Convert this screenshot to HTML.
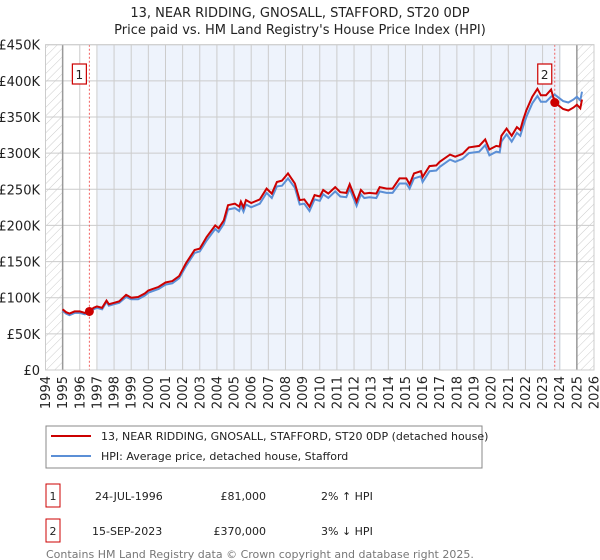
<!DOCTYPE html>
<html><head><meta charset="utf-8"><style>
body{margin:0;width:600px;height:560px;overflow:hidden;background:#fff;font-family:"Liberation Sans","DejaVu Sans",sans-serif;}
svg{position:absolute;left:0;top:0}
text{font-family:"DejaVu Sans","Liberation Sans",sans-serif}
</style></head><body>
<svg id="chart" width="600" height="560"></svg>
<script>
const years=[1995.0,1995.2,1995.4,1995.7,1996.0,1996.3,1996.56,1996.8,1997.0,1997.3,1997.56,1997.7,1998.0,1998.3,1998.7,1999.0,1999.4,1999.8,2000.0,2000.6,2001.0,2001.4,2001.8,2002.2,2002.7,2003.0,2003.4,2003.9,2004.1,2004.4,2004.65,2005.05,2005.3,2005.4,2005.55,2005.7,2006.0,2006.5,2006.9,2007.2,2007.5,2007.8,2008.15,2008.55,2008.83,2009.1,2009.4,2009.7,2010.0,2010.2,2010.5,2010.9,2011.2,2011.55,2011.75,2012.15,2012.4,2012.6,2012.9,2013.3,2013.5,2013.9,2014.25,2014.65,2015.05,2015.24,2015.5,2015.9,2016.0,2016.4,2016.8,2017.0,2017.6,2017.9,2018.33,2018.7,2019.3,2019.65,2019.9,2020.3,2020.5,2020.6,2020.9,2021.2,2021.5,2021.7,2021.85,2022.05,2022.4,2022.7,2022.9,2023.2,2023.5,2023.71,2024.2,2024.5,2024.8,2025.0,2025.2,2025.3];
const priceK=[84,80,78,81,81,79,81,86,88,86,96,91,93,95,104,100,101,106,110,115,121,123,130,148,166,168,184,200,196,207,228,230,226,233,225,235,231,236,251,244,260,262,272,258,235,236,226,242,240,249,244,253,246,245,257,233,249,244,245,244,253,251,251,265,265,257,272,275,267,282,283,288,298,295,299,308,310,319,305,310,309,324,334,324,336,332,345,359,378,389,380,380,388,370,361,359,363,367,362,374];
const hpiK=[82,78,76,79,79,77,79,84,86,84,94,89,91,93,101,98,98,103,107,112,118,120,127,144,162,164,179,195,191,202,222,224,220,227,219,229,225,230,245,238,254,255,265,252,229,230,220,236,234,243,238,247,240,239,251,227,243,238,239,238,247,245,245,258,258,251,265,268,260,275,276,281,291,288,292,300,302,311,297,302,301,316,326,316,328,324,336,350,369,379,371,371,378,381,372,370,374,378,373,385];
const yTicks=[0,50,100,150,200,250,300,350,400,450];
const xTicks=[1994,1995,1996,1997,1998,1999,2000,2001,2002,2003,2004,2005,2006,2007,2008,2009,2010,2011,2012,2013,2014,2015,2016,2017,2018,2019,2020,2021,2022,2023,2024,2025,2026];
const sales=[{n:"1",year:1996.56,valK:81},{n:"2",year:2023.71,valK:370}];

const L=45.5,R=594,T=44.7,B=370;
const X=y=>L+(y-1994)/(2026-1994)*(R-L);
const Y=v=>B-v/450*(B-T);
const svg=document.getElementById('chart');
const NS='http://www.w3.org/2000/svg';
function mk(tag,attrs,parent){const e=document.createElementNS(NS,tag);for(const k in attrs)e.setAttribute(k,attrs[k]);(parent||svg).appendChild(e);return e;}

const defs=mk('defs',{});
const pat=mk('pattern',{id:'hatch',width:6,height:6,patternUnits:'userSpaceOnUse',patternTransform:'rotate(45)'},defs);
mk('line',{x1:0,y1:0,x2:0,y2:6,stroke:'#ccc','stroke-width':1},pat);

let e;
e=mk('rect',{x:X(sales[0].year)+8,y:T,width:X(sales[1].year)-X(sales[0].year)-2,height:B-T,fill:'#eef3fc'});


e=mk('rect',{x:L,y:T,width:X(1995)-L,height:B-T,fill:'url(#hatch)'});


e=mk('rect',{x:X(2025),y:T,width:R-X(2025),height:B-T,fill:'url(#hatch)'});



yTicks.forEach(v=>{
  e=mk('line',{x1:L,x2:R,y1:Y(v),y2:Y(v),stroke:'#ccc','stroke-width':1});
  
  
  e=mk('text',{x:40,y:Y(v)+5,'text-anchor':'end','font-size':13,fill:'#222'});
  e.textContent=v===0?'£0':'£'+v+'K';
  
  
});
xTicks.forEach(yr=>{
  e=mk('line',{x1:X(yr),x2:X(yr),y1:T,y2:B,stroke:'#ccc','stroke-width':1});
  
  
  const tx=X(yr)+4.5, ty=376;
  e=mk('text',{x:tx,y:ty,'text-anchor':'end','font-size':13,fill:'#222',transform:'rotate(-90 '+tx+' '+ty+')'});
  e.textContent=yr;
  
  
});
[1995,2025].forEach(yr=>{
  e=mk('line',{x1:X(yr),x2:X(yr),y1:T,y2:B,stroke:'#999','stroke-width':1.5});
  
  
});
sales.forEach(s=>{
  e=mk('line',{x1:X(s.year),x2:X(s.year),y1:T,y2:B,stroke:'#f06060','stroke-width':1,'stroke-dasharray':'2,2'});
  
  
});
const pts=arr=>arr.map((v,i)=>X(years[i]).toFixed(1)+','+Y(v).toFixed(1)).join(' ');
e=mk('polyline',{points:pts(hpiK),fill:'none',stroke:'#5b8fd6','stroke-width':2});


e=mk('polyline',{points:pts(priceK),fill:'none',stroke:'#cc0000','stroke-width':2});


sales.forEach(s=>{
  e=mk('circle',{cx:X(s.year),cy:Y(s.valK),r:4.5,fill:'#cc0000'});
  
  
  const bx=X(s.year)-10;
  e=mk('rect',{x:bx-7,y:64,width:14,height:20,fill:'#fff',stroke:'#cc0000','stroke-width':1.2});
  
  
  e=mk('text',{x:bx,y:79,'text-anchor':'middle','font-size':12,fill:'#222'});
  e.textContent=s.n;
  
  
});
e=mk('rect',{x:L,y:T,width:R-L,height:B-T,fill:'none',stroke:'#ccc','stroke-width':1});


</script>
<svg width="600" height="560" style="pointer-events:none">
<text x="300" y="17" text-anchor="middle" font-size="13" fill="#222">13, NEAR RIDDING, GNOSALL, STAFFORD, ST20 0DP</text>
<text x="300" y="34" text-anchor="middle" font-size="13" fill="#222">Price paid vs. HM Land Registry's House Price Index (HPI)</text>
<rect x="46" y="426" width="436" height="42" fill="#fff" stroke="#888"/>
<line x1="51" y1="436" x2="91" y2="436" stroke="#cc0000" stroke-width="2"/>
<text x="101" y="440" font-size="11" fill="#222">13, NEAR RIDDING, GNOSALL, STAFFORD, ST20 0DP (detached house)</text>
<line x1="51" y1="456" x2="91" y2="456" stroke="#5b8fd6" stroke-width="2"/>
<text x="101" y="460" font-size="11" fill="#222">HPI: Average price, detached house, Stafford</text>
<rect x="46" y="484" width="14" height="23" fill="none" stroke="#cc0000"/>
<text x="53" y="500" text-anchor="middle" font-size="11" fill="#222">1</text>
<text x="95" y="500" font-size="11" fill="#222">24-JUL-1996</text>
<text x="266" y="500" text-anchor="end" font-size="11" fill="#222">£81,000</text>
<text x="321" y="500" font-size="11" fill="#222">2% ↑ HPI</text>
<rect x="46" y="519" width="14" height="23" fill="none" stroke="#cc0000"/>
<text x="53" y="535" text-anchor="middle" font-size="11" fill="#222">2</text>
<text x="92" y="535" font-size="11" fill="#222">15-SEP-2023</text>
<text x="266" y="535" text-anchor="end" font-size="11" fill="#222">£370,000</text>
<text x="321" y="535" font-size="11" fill="#222">3% ↓ HPI</text>
<text x="46" y="558" font-size="11" fill="#777">Contains HM Land Registry data © Crown copyright and database right 2025.</text>
<text x="46" y="570" font-size="11" fill="#777">This data is licensed under the Open Government Licence v3.0.</text>
</svg>
</body></html>
